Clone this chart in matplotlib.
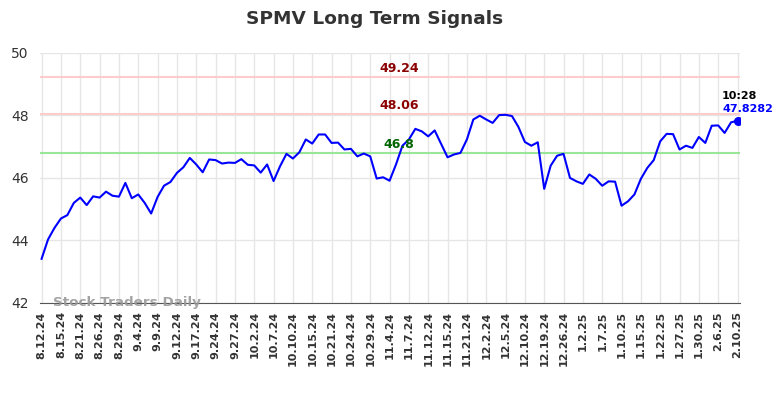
import matplotlib.pyplot as plt

# tick labels (every 3rd point)
tick_labels = ["8.12.24", "8.15.24", "8.21.24", "8.26.24", "8.29.24", "9.4.24", "9.9.24",
               "9.12.24", "9.17.24", "9.24.24", "9.27.24", "10.2.24", "10.7.24", "10.10.24",
               "10.15.24", "10.21.24", "10.24.24", "10.29.24", "11.4.24", "11.7.24",
               "11.12.24", "11.15.24", "11.21.24", "12.2.24", "12.5.24", "12.10.24",
               "12.19.24", "12.26.24", "1.2.25", "1.7.25", "1.10.25", "1.15.25", "1.22.25",
               "1.27.25", "1.30.25", "2.6.25", "2.10.25"]

# price values
prices = [43.41, 44.03, 44.40, 44.70, 44.81, 45.20, 45.37, 45.13, 45.41, 45.37,
          45.56, 45.43, 45.40, 45.84, 45.35, 45.47, 45.20, 44.86, 45.39, 45.75,
          45.87, 46.16, 46.34, 46.64, 46.43, 46.18, 46.59, 46.57, 46.46, 46.49,
          46.48, 46.60, 46.42, 46.40, 46.17, 46.43, 45.90, 46.37, 46.77, 46.62,
          46.82, 47.23, 47.10, 47.39, 47.39, 47.12, 47.13, 46.91, 46.93, 46.69,
          46.78, 46.69, 45.98, 46.02, 45.91, 46.43, 47.03, 47.23, 47.57, 47.49,
          47.33, 47.52, 47.09, 46.66, 46.75, 46.80, 47.23, 47.87, 47.99, 47.87,
          47.76, 48.01, 48.02, 47.98, 47.63, 47.15, 47.03, 47.14, 45.65, 46.39,
          46.71, 46.77, 46.00, 45.89, 45.81, 46.11, 45.97, 45.75, 45.89, 45.88,
          45.11, 45.25, 45.47, 45.97, 46.32, 46.57, 47.17, 47.41, 47.40, 46.91,
          47.03, 46.96, 47.31, 47.12, 47.67, 47.68, 47.44, 47.78, 47.8282]

resistance_hi = 49.24
resistance_lo = 48.06
support = 46.8
last_time = "10:28"

x = list(range(len(prices)))

fig = plt.figure(figsize=(7.84, 3.98), dpi=100)
ax = fig.add_axes([0.051, 0.239, 0.893, 0.628])

ax.plot(x, prices, color="#0000ff", linewidth=1.5, zorder=3)
ax.plot(x[-1], prices[-1], "o", color="#0000ff", markersize=5.5, zorder=4)

ax.axhline(resistance_hi, color="#ffcccc", linewidth=1.5, zorder=2)
ax.axhline(resistance_lo, color="#ffcccc", linewidth=1.5, zorder=2)
ax.axhline(support, color="#99e699", linewidth=1.5, zorder=2)

mid = 55.5
ax.text(mid, resistance_hi + 0.05, f"{resistance_hi:.2f}", color="#8b0000",
        fontsize=9, fontweight="bold", ha="center", va="bottom")
ax.text(mid, resistance_lo + 0.05, f"{resistance_lo:.2f}", color="#8b0000",
        fontsize=9, fontweight="bold", ha="center", va="bottom")
ax.text(mid, support + 0.05, f"{support:g}", color="#006400",
        fontsize=9, fontweight="bold", ha="center", va="bottom")

ax.text(105.6, 48.45, last_time, color="black", fontsize=8, fontweight="bold",
        ha="left", va="bottom")
ax.text(105.6, 48.03, f"{prices[-1]}", color="#0000ff", fontsize=8, fontweight="bold",
        ha="left", va="bottom")

ax.text(1.8, 42.0, "Stock Traders Daily", color="#999999", fontsize=9.7,
        fontweight="bold", ha="left", va="center", alpha=0.9)

ax.set_xlim(-0.25, 108.4)
ax.set_ylim(42, 50)
ax.set_yticks([42, 44, 46, 48, 50])
ax.set_xticks(range(0, len(prices), 3))
ax.set_xticklabels(tick_labels, rotation=90, fontsize=8, fontweight="bold", color="#333333")
ax.tick_params(axis="y", labelsize=10, colors="#333333", length=0, pad=8)
ax.tick_params(axis="x", length=0, pad=6)

ax.grid(True, color="#e6e6e6", linewidth=1)
ax.set_axisbelow(True)
for side in ["top", "right", "left"]:
    ax.spines[side].set_visible(False)
ax.spines["bottom"].set_color("#555555")

fig.suptitle("SPMV Long Term Signals", fontsize=13.3, fontweight="bold", color="#333333",
             x=0.478, y=0.975)

fig.savefig("out.png", dpi=100)
